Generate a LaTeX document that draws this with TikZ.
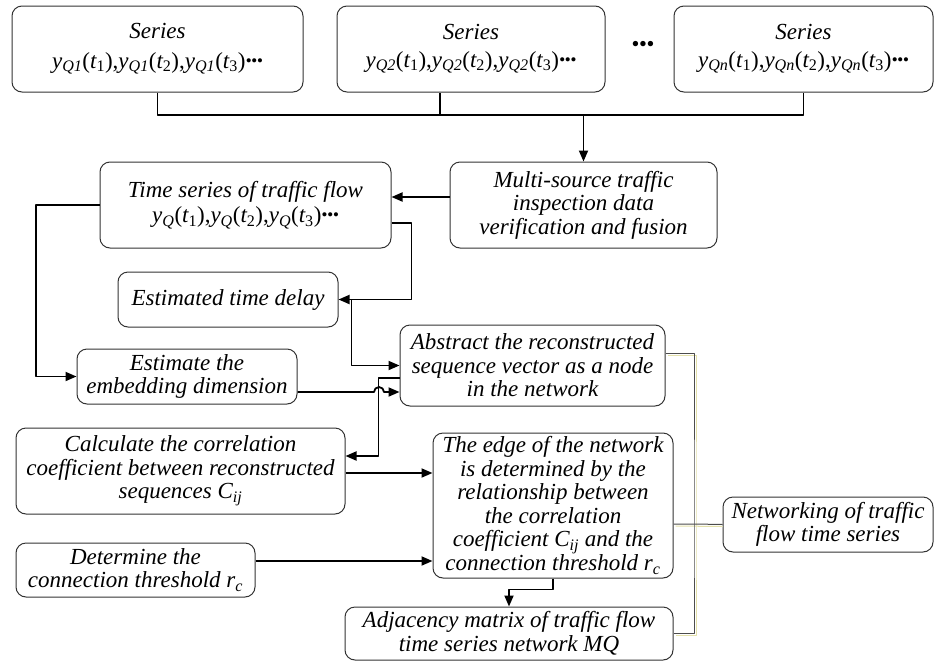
\documentclass[tikz,border=0pt]{standalone}
\usepackage{fontspec}
\usepackage{graphicx}
\setmainfont{Liberation Serif}
\usetikzlibrary{arrows.meta}
\newcommand{\dts}{\raisebox{0.2ex}{\scalebox{0.75}{\textbullet\kern-0.5pt\textbullet\kern-0.5pt\textbullet}}}
\newcommand{\yq}[2]{y\textsubscript{Q#1}\textup{(}t\textsubscript{\textup{#2}}\textup{)}}
\newcommand{\ser}[1]{\yq{#1}{1}\textup{,}\yq{#1}{2}\textup{,}\yq{#1}{3}\dts}

\begin{document}
\begin{tikzpicture}[x=1pt, y=-1pt, line join=round, >={Triangle[length=11pt,width=9pt]},
    box/.style={draw=black!80, line width=1pt, rounded corners=10pt, align=center, inner sep=1pt,
        font=\fontsize{23}{23.5}\selectfont\itshape},
    wire/.style={line width=1.8pt},
    arr/.style={wire, ->},
    brk/.style={draw=black!70, line width=1pt},
    ghost/.style={draw=olive!25, line width=1pt}]
    \useasboundingbox (0,0) rectangle (935,662);
    % source series
    \node[box, minimum width=291pt, minimum height=86pt] (s1) at (157.5,49) {Series\\[6pt]\ser{1}};
    \node[box, minimum width=268pt, minimum height=86pt] (s2) at (471,49) {Series\\[4pt]\ser{2}};
    \node[font=\fontsize{30}{30}\selectfont] (gap) at (643,48) {\dts};
    \node[box, minimum width=259pt, minimum height=86pt] (s3) at (803.5,49) {Series\\[4pt]\ser{n}};
    % processing steps
    \node[box, minimum width=267pt, minimum height=86pt] (fus) at (583.5,205) {Multi-source traffic\\inspection data\\verification and fusion};
    \node[box, minimum width=291pt, minimum height=86pt] (ts) at (245.5,205) {Time series of traffic flow\\[2pt]\ser{}};
    \node[box, minimum width=220pt, minimum height=55pt] (delay) at (228,299.5) {Estimated time delay};
    \node[box, minimum width=220pt, minimum height=55pt] (embed) at (187,376.5) {Estimate the\\embedding dimension};
    \node[box, minimum width=265pt, minimum height=81pt] (abs) at (532.5,365.5) {Abstract the reconstructed\\sequence vector as a node\\in the network};
    \node[box, minimum width=329pt, minimum height=86pt] (calc) at (180.5,471) {Calculate the correlation\\coefficient between reconstructed\\sequences C\textsubscript{ij}};
    \node[box, minimum width=239pt, minimum height=54pt] (thr) at (135.5,570) {Determine the\\connection threshold r\textsubscript{c}};
    \node[box, minimum width=240pt, minimum height=145pt] (edge) at (553,505.5) {The edge of the network\\is determined by the\\relationship between\\the correlation\\coefficient C\textsubscript{ij} and the\\connection threshold r\textsubscript{c}};
    \node[box, minimum width=328pt, minimum height=53pt] (adj) at (509,633.5) {Adjacency matrix of traffic flow\\time series network MQ};
    \node[box, minimum width=210pt, minimum height=55pt] (netw) at (828,524.5) {Networking of traffic\\flow time series};
    % bus from the series
    \coordinate (bus) at (440,115);
    \draw[wire] (s1.south) |- (s3.south |- bus) -- (s3.south);
    \draw[wire] (bus) -- (bus |- s2.south);
    \draw[arr] (fus.north |- bus) -- (fus.north);
    \draw[arr] ([yshift=8pt]fus.west) -- ([yshift=8pt]ts.east);
    % left branch
    \coordinate (lft) at (36,205);
    \draw[arr] (ts.west) -- (lft) |- (embed.west);
    \draw[arr] ([yshift=-18pt]ts.east) -- ++(20,0) |- (delay.east);
    \draw[arr] ([xshift=13pt]delay.east) |- (abs.west);
    \draw[arr] ([yshift=-15.5pt]embed.east) -- (374,392) arc[start angle=180, end angle=0, radius=5pt] -- ([yshift=-26.5pt]abs.west);
    \draw[arr] ([yshift=-12.5pt]abs.west) -- ++(-21,0) |- ([yshift=15pt]calc.east);
    \draw[arr] ([yshift=-2pt]calc.east) -- ([yshift=-2pt]calc.east -| edge.west);
    \draw[arr] ([yshift=9pt]thr.east) -- ([yshift=9pt]thr.east -| edge.west);
    \draw[arr] (edge.south) -- ++(0,11) -| (adj.north);
    % bracket to the summary box
    \coordinate (rail) at (694,524);
    \draw[ghost] ([shift={(2pt,-2pt)}]abs.east) ++(0,-12.5) -| ([shift={(2pt,-2pt)}]rail) |- ([shift={(2pt,-2pt)}]adj.east);
    \draw[ghost] ([shift={(2pt,-20.5pt)}]edge.east) -- ([shift={(0pt,-2pt)}]netw.west);
    \draw[brk] ([yshift=12.5pt]abs.east) -| (rail) |- (adj.east);
    \draw[brk] ([yshift=-18.5pt]edge.east) -- (rail) -- (netw.west);
\end{tikzpicture}
\end{document}
